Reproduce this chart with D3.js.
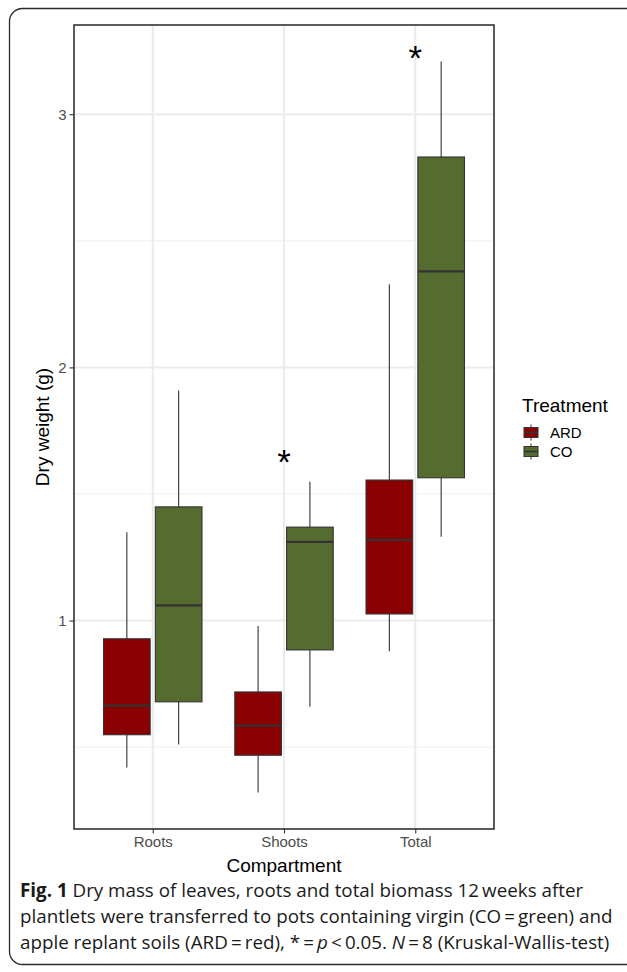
<!DOCTYPE html>
<html>
<head>
<meta charset="utf-8">
<script src="https://cdn.jsdelivr.net/npm/d3@7"></script>
<style>
  html, body { margin: 0; padding: 0; background: #fff; }
  svg { display: block; }
</style>
</head>
<body>
<svg id="fig" width="627" height="972"></svg>
<script>
// Compartments on the x axis and the two soil treatments
const categories = ["Roots", "Shoots", "Total"];
const treatments = ["ARD", "CO"];
const treatmentColors = ["#8B0000", "#556B2F"];

// Box statistics per compartment (g): lower whisker, Q1, median, Q3, upper whisker
const ardLow    = [0.420, 0.321, 0.879];
const ardQ1     = [0.549, 0.468, 1.026];
const ardMedian = [0.664, 0.585, 1.319];
const ardQ3     = [0.928, 0.718, 1.555];
const ardHigh   = [1.349, 0.978, 2.328];

const coLow     = [0.510, 0.660, 1.331];
const coQ1      = [0.679, 0.884, 1.564];
const coMedian  = [1.060, 1.311, 2.379];
const coQ3      = [1.449, 1.369, 2.831];
const coHigh    = [1.909, 1.548, 3.208];

// Significant differences (Kruskal-Wallis, p < 0.05)
const sigCategories = ["Shoots", "Total"];
const sigLevels = [1.652, 3.249];

const yTicks = [1, 2, 3];
const yMinorTicks = [0.5, 1.5, 2.5];

const boxes = [];
categories.forEach((c, i) => {
  boxes.push({cat: c, trt: "ARD", low: ardLow[i], q1: ardQ1[i], med: ardMedian[i], q3: ardQ3[i], high: ardHigh[i]});
  boxes.push({cat: c, trt: "CO", low: coLow[i], q1: coQ1[i], med: coMedian[i], q3: coQ3[i], high: coHigh[i]});
});

const svg = d3.select("#fig");
const panel = {left: 74, right: 494, top: 25, bottom: 829};
const ink = "#333333";

// Outer frame around figure and caption
svg.append("rect")
  .attr("x", 9.5).attr("y", 8.5)
  .attr("width", 660).attr("height", 956)
  .attr("rx", 13).attr("ry", 13)
  .attr("fill", "none").attr("stroke", "#2b2b2b").attr("stroke-width", 1.3);

// Scales
const lo = d3.min(boxes, d => d.low), hi = d3.max(boxes, d => d.high);
const pad = (hi - lo) * 0.05;
const y = d3.scaleLinear().domain([lo - pad, hi + pad]).range([panel.bottom, panel.top]);
const x = d3.scalePoint().domain(categories).range([panel.left, panel.right]).padding(0.6);
const step = x.step();
const dodge = d3.scaleBand().domain(treatments).range([-0.375 * step, 0.375 * step]).paddingInner(0.1);
const color = d3.scaleOrdinal().domain(treatments).range(treatmentColors);

// Grid
const grid = svg.append("g");
grid.selectAll("line.minor").data(yMinorTicks).join("line")
  .attr("x1", panel.left).attr("x2", panel.right)
  .attr("y1", d => y(d)).attr("y2", d => y(d))
  .attr("stroke", "#F2F2F2").attr("stroke-width", 1.2);
grid.selectAll("line.majory").data(yTicks).join("line")
  .attr("x1", panel.left).attr("x2", panel.right)
  .attr("y1", d => y(d)).attr("y2", d => y(d))
  .attr("stroke", "#EBEBEB").attr("stroke-width", 2);
grid.selectAll("line.majorx").data(categories).join("line")
  .attr("x1", d => x(d)).attr("x2", d => x(d))
  .attr("y1", panel.top).attr("y2", panel.bottom)
  .attr("stroke", "#EBEBEB").attr("stroke-width", 2);

// Boxplots
const bw = dodge.bandwidth();
const g = svg.append("g");
const bx = d => x(d.cat) + dodge(d.trt);
g.selectAll("line.whisk-up").data(boxes).join("line")
  .attr("x1", d => bx(d) + bw / 2).attr("x2", d => bx(d) + bw / 2)
  .attr("y1", d => y(d.high)).attr("y2", d => y(d.q3))
  .attr("stroke", ink).attr("stroke-width", 1.1);
g.selectAll("line.whisk-dn").data(boxes).join("line")
  .attr("x1", d => bx(d) + bw / 2).attr("x2", d => bx(d) + bw / 2)
  .attr("y1", d => y(d.q1)).attr("y2", d => y(d.low))
  .attr("stroke", ink).attr("stroke-width", 1.1);
g.selectAll("rect.box").data(boxes).join("rect")
  .attr("x", d => bx(d)).attr("width", bw)
  .attr("y", d => y(d.q3)).attr("height", d => y(d.q1) - y(d.q3))
  .attr("fill", d => color(d.trt)).attr("stroke", ink).attr("stroke-width", 1.1);
g.selectAll("line.median").data(boxes).join("line")
  .attr("x1", d => bx(d)).attr("x2", d => bx(d) + bw)
  .attr("y1", d => y(d.med)).attr("y2", d => y(d.med))
  .attr("stroke", ink).attr("stroke-width", 2.2);

// Significance asterisks, placed over the gap between the two boxes
svg.selectAll("text.sig").data(sigCategories).join("text")
  .attr("x", d => x(d)).attr("y", (d, i) => y(sigLevels[i]))
  .attr("dy", 19)
  .attr("text-anchor", "middle")
  .attr("font-family", "Liberation Sans, Arial, sans-serif")
  .attr("font-size", 35).attr("fill", "#000")
  .text("*");

// Panel border
svg.append("rect")
  .attr("x", panel.left).attr("y", panel.top)
  .attr("width", panel.right - panel.left).attr("height", panel.bottom - panel.top)
  .attr("fill", "none").attr("stroke", ink).attr("stroke-width", 1.6);

// Axes
const font = "Liberation Sans, Arial, sans-serif";
const yAxis = svg.append("g").attr("transform", `translate(${panel.left},0)`)
  .call(d3.axisLeft(y).tickValues(yTicks).tickFormat(d3.format("d")).tickSize(4.5).tickPadding(3));
const xAxis = svg.append("g").attr("transform", `translate(0,${panel.bottom})`)
  .call(d3.axisBottom(x).tickSize(4.5).tickPadding(3));
[yAxis, xAxis].forEach(a => {
  a.select(".domain").remove();
  a.selectAll(".tick line").attr("stroke", ink).attr("stroke-width", 1.1);
  a.selectAll(".tick text").attr("fill", "#4D4D4D").attr("font-family", font).attr("font-size", 15);
});

svg.append("text")
  .attr("x", x("Shoots")).attr("y", 872)
  .attr("text-anchor", "middle")
  .attr("font-family", font).attr("font-size", 19).attr("fill", "#000")
  .text("Compartment");
svg.append("text")
  .attr("transform", `translate(49,${(panel.top + panel.bottom) / 2}) rotate(-90)`)
  .attr("text-anchor", "middle")
  .attr("font-family", font).attr("font-size", 19).attr("fill", "#000")
  .text("Dry weight (g)");

// Legend
const leg = svg.append("g");
leg.append("text").attr("x", 522).attr("y", 412)
  .attr("font-family", font).attr("font-size", 19).attr("fill", "#000").text("Treatment");
const keyY = [432.5, 451.5];
treatments.forEach((t, i) => {
  const cy = keyY[i];
  leg.append("line").attr("x1", 531).attr("x2", 531).attr("y1", cy - 8).attr("y2", cy + 8)
    .attr("stroke", ink).attr("stroke-width", 1);
  leg.append("rect").attr("x", 524).attr("y", cy - 5).attr("width", 14).attr("height", 10)
    .attr("fill", color(t)).attr("stroke", ink).attr("stroke-width", 1);
  leg.append("line").attr("x1", 524).attr("x2", 538).attr("y1", cy).attr("y2", cy)
    .attr("stroke", ink).attr("stroke-width", 1.6);
  leg.append("text").attr("x", 550).attr("y", cy + 5.5)
    .attr("font-family", font).attr("font-size", 15).attr("fill", "#000").text(t);
});

// Caption
const cap = svg.append("text")
  .attr("font-family", "Open Sans, Noto Sans, sans-serif").attr("font-size", 18.8).attr("fill", "#1a1a1a");
const l1 = cap.append("tspan").attr("x", 20).attr("y", 897);
l1.append("tspan").attr("font-weight", "bold").text("Fig. 1");
l1.append("tspan").text(" Dry mass of leaves, roots and total biomass 12\u2009weeks after");
cap.append("tspan").attr("x", 20).attr("y", 923)
  .text("plantlets were transferred to pots containing virgin (CO\u2009=\u2009green) and");
const l3 = cap.append("tspan").attr("x", 20).attr("y", 949);
l3.append("tspan").text("apple replant soils (ARD\u2009=\u2009red), *\u2009=\u2009");
l3.append("tspan").attr("font-style", "italic").text("p");
l3.append("tspan").text("\u2009<\u20090.05. ");
l3.append("tspan").attr("font-style", "italic").text("N");
l3.append("tspan").text("\u2009=\u20098 (Kruskal-Wallis-test)");
</script>
</body>
</html>
